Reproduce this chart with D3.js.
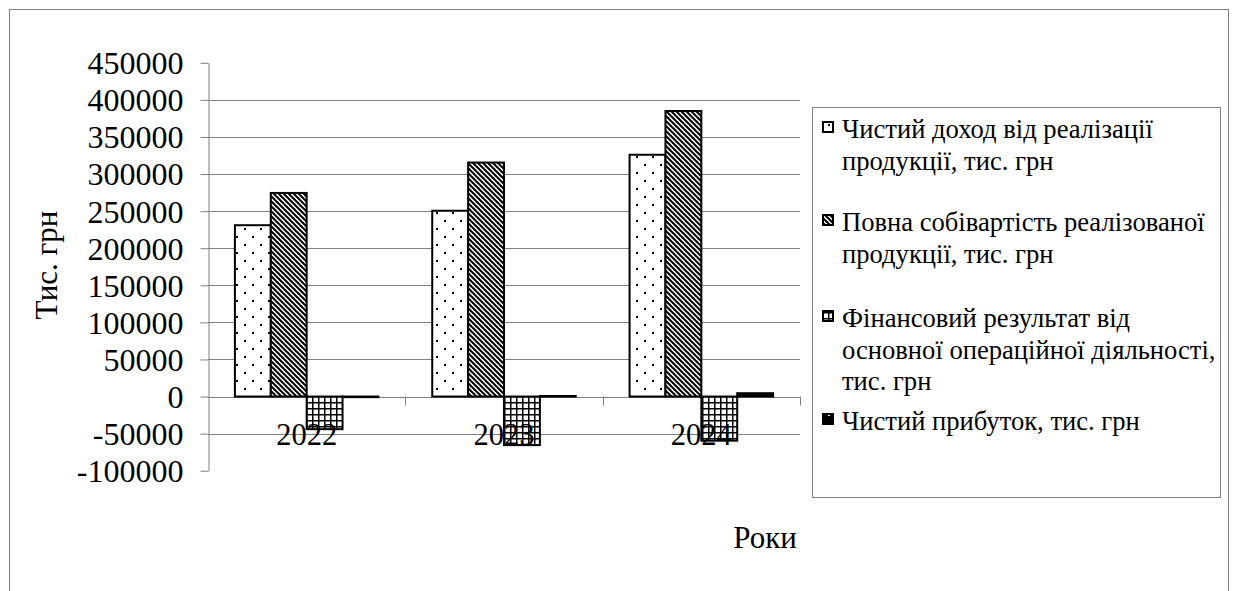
<!DOCTYPE html>
<html><head><meta charset="utf-8">
<script src="https://cdn.jsdelivr.net/npm/d3@7"></script>
<style>
html,body{margin:0;padding:0;background:#fff;}
svg text{font-family:"Liberation Serif","Times New Roman",serif;fill:#000;}
</style></head>
<body>
<svg id="chart" width="1237" height="591"></svg>
<script>
// ---- data ----
const years = ["2022", "2023", "2024"];
const seriesNames = [
  ["Чистий доход від реалізації", "продукції, тис. грн"],
  ["Повна собівартість реалізованої", "продукції, тис. грн"],
  ["Фінансовий результат від", "основної операційної діяльності,", "тис. грн"],
  ["Чистий прибуток, тис. грн"]
];
const revenue   = [231000, 250500, 326000];
const cost      = [274500, 315500, 385000];
const finResult = [-44000, -65500, -59500];
const netProfit = [-800, 700, 4500];
const yTicks = [-100000, -50000, 0, 50000, 100000, 150000, 200000, 250000, 300000, 350000, 400000, 450000];
const gridTicks = [-50000, 0, 50000, 100000, 150000, 200000, 250000, 300000, 350000, 400000];
const yTitle = "Тис. грн";
const xTitle = "Роки";

const FONT = '"Liberation Serif","Times New Roman",serif';
const series = [revenue, cost, finResult, netProfit];
const fills = ["url(#pDots)", "url(#pHatch)", "url(#pGrid)", "url(#pBlack)"];

const svg = d3.select("#chart");
const defs = svg.append("defs");

// patterns
const pDots = defs.append("pattern").attr("id","pDots").attr("patternUnits","userSpaceOnUse").attr("width",16).attr("height",16);
pDots.append("rect").attr("width",16).attr("height",16).attr("fill","#fff");
pDots.append("rect").attr("x",4).attr("y",4).attr("width",2).attr("height",2).attr("fill","#000");
pDots.append("rect").attr("x",12).attr("y",12).attr("width",2).attr("height",2).attr("fill","#000");

const pHatch = defs.append("pattern").attr("id","pHatch").attr("patternUnits","userSpaceOnUse").attr("width",5).attr("height",5);
pHatch.append("rect").attr("width",5).attr("height",5).attr("fill","#fff");
pHatch.append("path").attr("d","M-1,-1L6,6M-1,4L1,6M4,-1L6,1").attr("stroke","#000").attr("stroke-width",2);

const pGrid = defs.append("pattern").attr("id","pGrid").attr("patternUnits","userSpaceOnUse").attr("width",6).attr("height",6);
pGrid.append("rect").attr("width",6).attr("height",6).attr("fill","#fff");
pGrid.append("path").attr("d","M0,0H6M0,0V6").attr("stroke","#000").attr("stroke-width",3);

const pBlack = defs.append("pattern").attr("id","pBlack").attr("patternUnits","userSpaceOnUse").attr("width",16).attr("height",16);
pBlack.append("rect").attr("width",16).attr("height",16).attr("fill","#000");
pBlack.append("rect").attr("x",4).attr("y",6).attr("width",2).attr("height",2).attr("fill","#fff");
pBlack.append("rect").attr("x",12).attr("y",14).attr("width",2).attr("height",2).attr("fill","#fff");

// outer frame
svg.append("rect").attr("x",9.5).attr("y",9.5).attr("width",1219).attr("height",600)
  .attr("fill","none").attr("stroke","#808080").attr("stroke-width",1);

// scales
const plotL = 208, plotR = 800, yTop = 62.8, yBot = 470.7;
const y = d3.scaleLinear().domain([-100000, 450000]).range([yBot, yTop]);
const x0 = d3.scaleBand().domain(years).range([plotL, plotR]).paddingInner(0).paddingOuter(0);
const barW = x0.bandwidth() / 5.5;
const x1 = d3.scaleBand().domain(d3.range(series.length)).range([0.75*barW, 0.75*barW + 4*barW]).padding(0);

// gridlines
svg.append("g").selectAll("line").data(gridTicks).join("line")
  .attr("x1", plotL).attr("x2", plotR)
  .attr("y1", d => Math.round(y(d))+0.5).attr("y2", d => Math.round(y(d))+0.5)
  .attr("stroke","#808080").attr("stroke-width",1);

// y axis
const yAxis = svg.append("g").attr("transform",`translate(${plotL+0.5},0)`)
  .call(d3.axisLeft(y).tickValues(yTicks).tickSize(8).tickSizeOuter(0).tickPadding(17).tickFormat(d => String(d)));
yAxis.attr("font-family", FONT);
yAxis.select(".domain").attr("stroke","#808080");
yAxis.selectAll(".tick line").attr("stroke","#808080");
yAxis.selectAll(".tick text").attr("font-size","32px").attr("font-family",FONT).attr("fill","#000").attr("dy","0.34em");

// category boundary ticks on zero line
svg.append("g").selectAll("line").data(years).join("line")
  .attr("x1", d => Math.round(x0(d) + x0.bandwidth())+0.5).attr("x2", d => Math.round(x0(d) + x0.bandwidth())+0.5)
  .attr("y1", y(0)).attr("y2", y(0)+9)
  .attr("stroke","#808080");

// bars
series.forEach((vals, si) => {
  svg.append("g").selectAll("rect").data(vals).join("rect")
    .attr("x", (d,i) => x0(years[i]) + x1(si))
    .attr("width", x1.bandwidth())
    .attr("y", d => Math.min(y(d), y(0)))
    .attr("height", d => Math.max(Math.abs(y(d) - y(0)), 0.5))
    .attr("fill", fills[si])
    .attr("stroke","#000").attr("stroke-width",2);
});

// category labels
svg.append("g").selectAll("text").data(years).join("text")
  .attr("x", d => x0(d) + x0.bandwidth()/2)
  .attr("y", 445)
  .attr("text-anchor","middle").attr("font-size","30.5px").attr("font-family",FONT)
  .text(d => d);

// axis titles
svg.append("text").attr("transform","translate(57,265) rotate(-90)")
  .attr("text-anchor","middle").attr("font-size","31px").attr("font-family",FONT).text(yTitle);
svg.append("text").attr("x",765).attr("y",548)
  .attr("text-anchor","middle").attr("font-size","31px").attr("font-family",FONT).text(xTitle);

// legend
const lg = svg.append("g");
lg.append("rect").attr("x",812.5).attr("y",107.5).attr("width",408).attr("height",390)
  .attr("fill","#fff").attr("stroke","#808080");
const lineH = 31.5;
const itemGaps = [30, 33, 8.5];
let yy = 138;
seriesNames.forEach((lines, si) => {
  lg.append("rect").attr("x",823).attr("y",yy-16).attr("width",10).attr("height",10)
    .attr("fill",fills[si]).attr("stroke","#000").attr("stroke-width",2);
  lines.forEach((t, li) => {
    lg.append("text").attr("x", 842).attr("y", yy + li*lineH)
      .attr("font-size","26.6px").attr("font-family",FONT).text(t);
  });
  yy += lines.length*lineH + (itemGaps[si] || 0);
});
</script>
</body></html>
